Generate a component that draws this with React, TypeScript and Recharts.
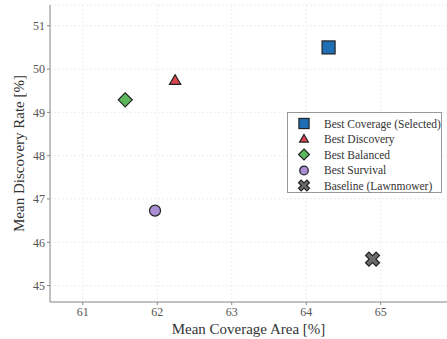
import React from 'react';
import {
  ScatterChart,
  Scatter,
  XAxis,
  YAxis,
  CartesianGrid,
} from 'recharts';

// configurations shown in the plot
const seriesNames = [
  'Best Coverage (Selected)',
  'Best Discovery',
  'Best Balanced',
  'Best Survival',
  'Baseline (Lawnmower)',
];
const coverage = [64.3, 62.24, 61.57, 61.97, 64.89];
const discovery = [50.5, 49.72, 49.29, 46.73, 45.61];
const markerKinds = ['square', 'triangle', 'diamond', 'circle', 'x'];
const markerColors = ['#1f6fb4', '#d9464f', '#5cb85c', '#a98ed4', '#6b6b6b'];

const xTicks = [61, 62, 63, 64, 65];
const yTicks = [45, 46, 47, 48, 49, 50, 51];

const FONT = '"Liberation Serif", "DejaVu Serif", serif';

function Marker({ kind, cx, cy, fill, scale = 1 }: { kind: string; cx: number; cy: number; fill: string; scale?: number }) {
  const common = { fill, stroke: '#222', strokeWidth: 1.2 };
  if (kind === 'square') {
    const s = 6.5 * scale;
    return <rect x={cx - s} y={cy - s} width={s * 2} height={s * 2} {...common} />;
  }
  if (kind === 'triangle') {
    const r = 6.5 * scale;
    const pts = [
      [cx, cy - r],
      [cx + r * 0.87, cy + r * 0.5],
      [cx - r * 0.87, cy + r * 0.5],
    ];
    return <polygon points={pts.map((p) => p.join(',')).join(' ')} {...common} />;
  }
  if (kind === 'diamond') {
    const r = 7 * scale;
    const pts = [
      [cx, cy - r],
      [cx + r, cy],
      [cx, cy + r],
      [cx - r, cy],
    ];
    return <polygon points={pts.map((p) => p.join(',')).join(' ')} {...common} />;
  }
  if (kind === 'circle') {
    return <circle cx={cx} cy={cy} r={5.5 * scale} {...common} />;
  }
  // filled "X" marker: plus shape rotated by 45 degrees
  const a = 2.4 * scale;
  const L = 7.5 * scale;
  const plus = [
    [-a, -L], [a, -L], [a, -a], [L, -a], [L, a], [a, a],
    [a, L], [-a, L], [-a, a], [-L, a], [-L, -a], [-a, -a],
  ];
  const c = Math.SQRT1_2;
  const pts = plus.map(([x, y]) => [cx + (x - y) * c, cy + (x + y) * c]);
  return <polygon points={pts.map((p) => p.join(',')).join(' ')} {...common} />;
}

export default function App() {
  const series = seriesNames.map((name, i) => ({
    name,
    kind: markerKinds[i],
    color: markerColors[i],
    data: [{ x: coverage[i], y: discovery[i] }],
  }));

  return (
    <div style={{ position: 'absolute', left: 0, top: 0, width: 447, height: 339, background: '#fff', fontFamily: FONT }}>
      <ScatterChart width={447} height={339} margin={{ top: 5, right: 0, bottom: 0, left: 0 }}>
        <CartesianGrid stroke="#ececec" strokeDasharray="2 2" />
        <XAxis
          type="number"
          dataKey="x"
          domain={[60.56, 65.89]}
          ticks={xTicks}
          allowDataOverflow
          height={37}
          tickSize={3}
          stroke="#888"
          tick={{ fill: '#555', fontSize: 12, fontFamily: FONT }}
          label={{ value: 'Mean Coverage Area [%]', position: 'insideBottom', offset: 5, fill: '#333', fontSize: 15, fontFamily: FONT }}
        />
        <XAxis xAxisId="top" orientation="top" type="number" height={0} tick={false} tickLine={false} stroke="#999" />
        <YAxis
          type="number"
          dataKey="y"
          domain={[44.62, 51.48]}
          ticks={yTicks}
          allowDataOverflow
          width={50}
          tickSize={3}
          stroke="#888"
          tick={{ fill: '#555', fontSize: 12, fontFamily: FONT }}
          label={{ value: 'Mean Discovery Rate [%]', angle: -90, position: 'insideLeft', offset: 19, fill: '#333', fontSize: 15, fontFamily: FONT, style: { textAnchor: 'middle' } }}
        />
        {series.map((s) => (
          <Scatter
            key={s.name}
            name={s.name}
            data={s.data}
            isAnimationActive={false}
            shape={(p: any) => <Marker kind={s.kind} cx={p.cx} cy={p.cy} fill={s.color} />}
          />
        ))}
      </ScatterChart>
      <div
        style={{
          position: 'absolute',
          left: 287,
          top: 112,
          width: 155,
          height: 81,
          border: '1px solid #999',
          background: '#fff',
          boxSizing: 'border-box',
          padding: '3px 0 0 0',
        }}
      >
        {series.map((s) => (
          <div key={s.name} style={{ display: 'flex', alignItems: 'center', height: 15.5 }}>
            <svg width={36} height={15} style={{ flex: 'none' }}>
              <Marker kind={s.kind} cx={16} cy={7.5} fill={s.color} scale={0.78} />
            </svg>
            <span style={{ fontSize: 11.5, color: '#333', whiteSpace: 'nowrap', fontFamily: FONT }}>{s.name}</span>
          </div>
        ))}
      </div>
    </div>
  );
}
